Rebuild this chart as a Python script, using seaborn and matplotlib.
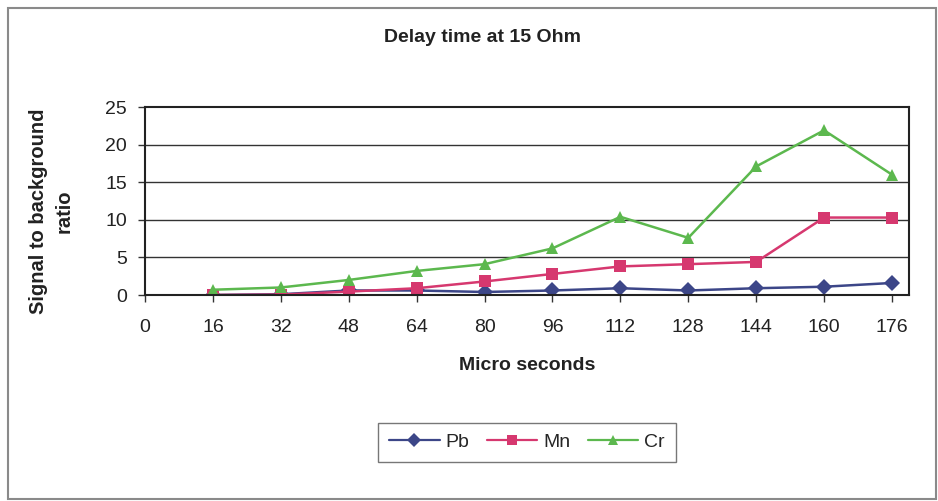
import matplotlib
matplotlib.use("Agg")
import matplotlib.pyplot as plt
import seaborn as sns
import pandas as pd
from matplotlib.patches import Rectangle

# Delay time (micro seconds) and signal-to-background ratios per element
micro_seconds = [16, 32, 48, 64, 80, 96, 112, 128, 144, 160, 176]
pb = [0.0, 0.1, 0.6, 0.6, 0.4, 0.6, 0.9, 0.6, 0.9, 1.1, 1.6]
mn = [0.0, 0.05, 0.45, 0.9, 1.8, 2.8, 3.8, 4.1, 4.4, 10.3, 10.3]
cr = [0.7, 1.0, 2.0, 3.2, 4.1, 6.2, 10.4, 7.6, 17.1, 21.9, 16.0]
elements = ["Pb", "Mn", "Cr"]
x_ticks = [0, 16, 32, 48, 64, 80, 96, 112, 128, 144, 160, 176]
y_ticks = [0, 5, 10, 15, 20, 25]

df = pd.DataFrame({
    "Micro seconds": micro_seconds * 3,
    "ratio": pb + mn + cr,
    "element": sum([[e] * len(micro_seconds) for e in elements], []),
})

sns.set_theme(style="white")
plt.rcParams["font.family"] = ["Liberation Sans", "DejaVu Sans"]

palette = {"Pb": "#3c4688", "Mn": "#d6386f", "Cr": "#5cb84e"}
markers = {"Pb": "D", "Mn": "s", "Cr": "^"}

fig = plt.figure(figsize=(9.38, 5.01), dpi=100)
ax = fig.add_axes([145 / 938, 1 - 295 / 501, (909 - 145) / 938, (295 - 107) / 501])

sns.lineplot(data=df, x="Micro seconds", y="ratio", hue="element", style="element",
             palette=palette, markers=markers, dashes=False, markersize=8,
             markeredgewidth=0, linewidth=1.8, ax=ax, legend=False)

ax.set_xlim(0, 180)
ax.set_ylim(0, 25)
ax.set_xticks(x_ticks)
ax.set_yticks(y_ticks)
ax.tick_params(axis="both", which="both", length=5, width=1, color="#333333",
               direction="out", labelsize=14, labelcolor="#222222",
               bottom=True, left=True)
ax.tick_params(axis="x", pad=12)
ax.tick_params(axis="y", pad=8)
for y in y_ticks[1:-1]:
    ax.axhline(y, color="#333333", linewidth=1, zorder=0)
for s in ax.spines.values():
    s.set_color("#222222")
    s.set_linewidth(1.5)

ax.set_xlabel("")
ax.set_ylabel("")
fig.text(527 / 938, 1 - 365 / 501, "Micro seconds", ha="center", va="center",
         fontsize=14, fontweight="bold", color="#222222")
fig.text(51 / 938, 1 - 211 / 501, "Signal to background\nratio", ha="center",
         va="center", rotation=90, fontsize=14.5, fontweight="bold",
         color="#222222", linespacing=1.45)
fig.text(482 / 938, 1 - 37 / 501, "Delay time at 15 Ohm", ha="center", va="center",
         fontsize=14, fontweight="bold", color="#222222")

# Legend
handles = [plt.Line2D([], [], color=palette[e], marker=markers[e], markersize=7,
                      markeredgewidth=0, linewidth=1.6) for e in elements]
leg = fig.legend(handles, elements, loc="center", ncol=3,
                 bbox_to_anchor=(527 / 938, 1 - 442 / 501), frameon=True,
                 fancybox=False, edgecolor="#555555", fontsize=14,
                 handlelength=2.6, columnspacing=0.9, handletextpad=0.3,
                 borderpad=0.55)
leg.get_frame().set_linewidth(1.0)

# Chart-area frame
fig.patches.append(Rectangle((8 / 938, 2 / 501), 928 / 938, 491 / 501,
                             transform=fig.transFigure, fill=False,
                             edgecolor="#8a8a8a", linewidth=1.5))

fig.savefig("out.png", dpi=100)
